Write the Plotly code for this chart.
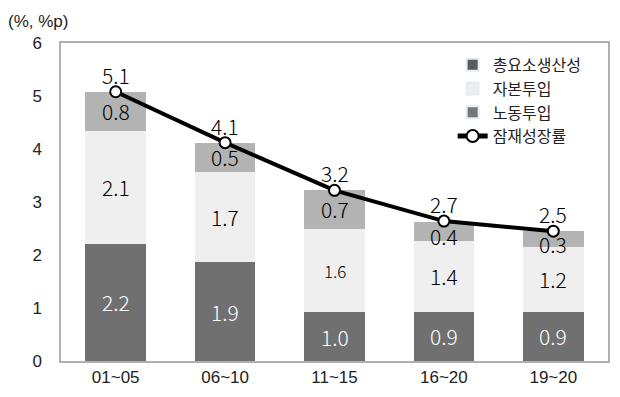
import plotly.graph_objects as go

categories = ["01~05", "06~10", "11~15", "16~20", "19~20"]
labor = [2.21, 1.86, 0.92, 0.93, 0.93]
capital = [2.13, 1.70, 1.58, 1.34, 1.22]
tfp = [0.74, 0.56, 0.72, 0.35, 0.30]
potential = [5.08, 4.12, 3.22, 2.64, 2.45]

labor_txt = ["2.2", "1.9", "1.0", "0.9", "0.9"]
capital_txt = ["2.1", "1.7", "1.6", "1.4", "1.2"]
tfp_txt = ["0.8", "0.5", "0.7", "0.4", "0.3"]
potential_txt = ["5.1", "4.1", "3.2", "2.7", "2.5"]

C_LAB = "#707070"
C_CAP = "#efefef"
C_TFP = "#b3b3b3"
NUM_FONT = "Noto Sans CJK KR"
KR_FONT = "Noto Sans CJK KR"
AX_FONT = "Liberation Sans"

fig = go.Figure()
fig.add_trace(go.Bar(x=categories, y=labor, marker=dict(color=C_LAB, line=dict(width=0)), showlegend=False, hoverinfo="skip"))
fig.add_trace(go.Bar(x=categories, y=capital, marker=dict(color=C_CAP, line=dict(width=0)), showlegend=False, hoverinfo="skip"))
fig.add_trace(go.Bar(x=categories, y=tfp, marker=dict(color=C_TFP, line=dict(width=0)), showlegend=False, hoverinfo="skip"))
fig.add_trace(go.Scatter(x=categories, y=potential, mode="lines+markers", showlegend=False,
                         line=dict(color="black", width=4),
                         marker=dict(symbol="circle", size=11, color="white", line=dict(color="black", width=2))))

# legend entries (as in the reference legend)
fig.add_trace(go.Bar(x=[None], y=[None], name="총요소생산성", marker_color="#5a5a5a"))
fig.add_trace(go.Bar(x=[None], y=[None], name="자본투입", marker_color="#eeeeee"))
fig.add_trace(go.Bar(x=[None], y=[None], name="노동투입", marker_color="#767676"))
fig.add_trace(go.Scatter(x=[None], y=[None], name="잠재성장률", mode="lines+markers",
                         line=dict(color="black", width=4),
                         marker=dict(symbol="circle", size=10, color="white", line=dict(color="black", width=2))))

for i, c in enumerate(categories):
    b1 = labor[i]
    b2 = b1 + capital[i]
    b3 = b2 + tfp[i]
    fig.add_annotation(x=c, y=b1 / 2, text=labor_txt[i], showarrow=False,
                       font=dict(family=NUM_FONT, size=21, color="white", weight=300))
    fig.add_annotation(x=c, y=(b1 + b2) / 2, text=capital_txt[i], showarrow=False,
                       font=dict(family=NUM_FONT, size=17 if i == 2 else 21, color="black", weight=300))
    off = -5 if tfp[i] < 0.45 else 0
    fig.add_annotation(x=c, y=(b2 + b3) / 2, text=tfp_txt[i], showarrow=False, yshift=off,
                       font=dict(family=NUM_FONT, size=21, color="black", weight=300))
    fig.add_annotation(x=c, y=potential[i], text=potential_txt[i], showarrow=False, yshift=17,
                       font=dict(family=NUM_FONT, size=21, color="black", weight=300))

fig.add_annotation(xref="paper", yref="paper", x=-0.1, y=1.0, yshift=33, xanchor="left",
                   text="(%, %p)", showarrow=False,
                   font=dict(family=AX_FONT, size=17, color="#222222"))

# page has an 8px body margin, so the figure is sized to fit the window
fig.update_layout(
    width=612, height=389,
    margin=dict(l=53, r=10, t=35, b=33),
    barmode="stack", bargap=0.445,
    plot_bgcolor="white", paper_bgcolor="white",
    font=dict(family=AX_FONT, size=16, color="#222222"),
    legend=dict(x=0.716, y=0.985, xanchor="left", yanchor="top", bgcolor="rgba(0,0,0,0)",
                font=dict(family=KR_FONT, size=16, color="#222222"),
                traceorder="normal", tracegroupgap=0, itemsizing="constant"),
)
fig.update_xaxes(showgrid=False, showline=True, mirror=True, linecolor="#b0b0b0", linewidth=1.5,
                 ticks="", tickfont=dict(family=AX_FONT, size=17))
fig.update_yaxes(range=[0, 6], dtick=1, showgrid=False, showline=True, mirror=True,
                 linecolor="#b0b0b0", linewidth=1.5, ticks="", ticklabelstandoff=14,
                 zeroline=False, tickfont=dict(family=AX_FONT, size=17))

fig.write_html("out.html")
